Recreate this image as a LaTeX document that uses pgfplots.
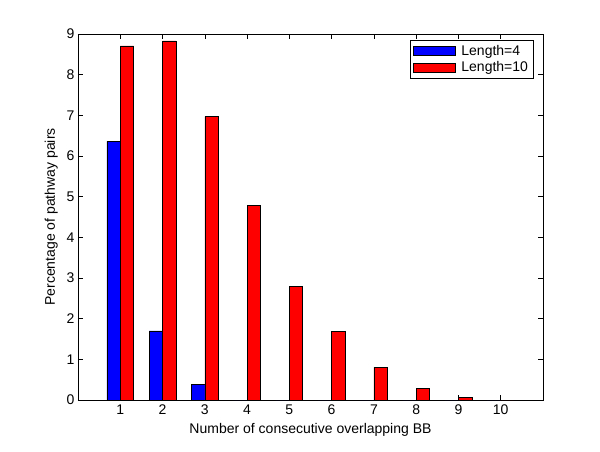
\documentclass[border=0pt]{standalone}
\usepackage{fontspec}
\setmainfont{Liberation Sans}
\usepackage{pgfplots}
\pgfplotsset{compat=1.18}

\begin{document}
\begin{tikzpicture}
\useasboundingbox (-78pt,-51pt) rectangle (522pt,400pt);
\begin{axis}[
 at={(0pt,0pt)},anchor=south west,
 scale only axis,width=465pt,height=366pt,
 ybar=0pt,bar width=13.3pt,
 xmin=0,xmax=11,ymin=0,ymax=9,
 xtick={1,...,10},ytick={0,...,9},
 tick align=inside,major tick length=5pt,
 tick style={black,line width=0.5pt},
 axis line style={line width=0.6pt},
 /pgf/number format/assume math mode=true,
 tick label style={font=\fontsize{14}{16}\selectfont},
 label style={font=\fontsize{14}{16}\selectfont},
 xticklabel style={yshift=-1pt},
 xlabel={Number of consecutive overlapping BB},
 ylabel={Percentage of pathway pairs},
 xlabel style={yshift=-2pt},
 ylabel style={yshift=2pt},
 legend style={at={(0.979,0.984)},anchor=north east,draw=black,line width=0.5pt,
   font=\fontsize{14}{16}\selectfont,inner sep=3pt,row sep=1pt,column sep=4pt,
   nodes={inner xsep=2pt,inner ysep=2pt}},
 legend cell align=left,
 legend image code/.code={\draw[#1,line width=0.5pt] (0pt,-4.5pt) rectangle (42pt,4.5pt);},
]
\addplot[fill={rgb,255:red,0;green,0;blue,255},draw=black,line width=0.5pt] coordinates {(1,6.36) (2,1.70) (3,0.39) (4,0) (5,0) (6,0) (7,0) (8,0) (9,0) (10,0)};
\addplot[fill={rgb,255:red,255;green,0;blue,0},draw=black,line width=0.5pt] coordinates {(1,8.71) (2,8.83) (3,6.97) (4,4.79) (5,2.80) (6,1.69) (7,0.80) (8,0.28) (9,0.07) (10,0)};
\legend{Length=4,Length=10}
\end{axis}
\end{tikzpicture}
\end{document}
